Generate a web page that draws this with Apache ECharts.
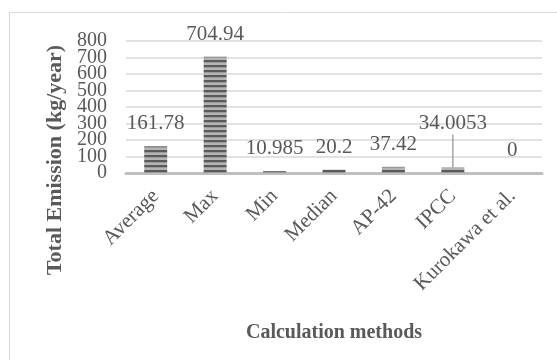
<!DOCTYPE html>
<html><head><meta charset="utf-8">
<script src="https://cdn.jsdelivr.net/npm/echarts@6/dist/echarts.min.js"></script>
<style>html,body{margin:0;padding:0;background:#fff}#c{width:557px;height:360px}</style>
</head><body><div id="c"></div>
<script>
const categories = ['Average', 'Max', 'Min', 'Median', 'AP-42', 'IPCC', 'Kurokawa et al.'];
const values = [161.78, 704.94, 10.985, 20.2, 37.42, 34.0053, 0];
const valueLabels = ['161.78', '704.94', '10.985', '20.2', '37.42', '34.0053', '0'];
const yTicks = [0, 100, 200, 300, 400, 500, 600, 700, 800];

const pc = document.createElement('canvas');
pc.width = 4; pc.height = 5;
const g = pc.getContext('2d');
g.fillStyle = '#b4b4b4'; g.fillRect(0, 0, 4, 5);
g.fillStyle = '#5a5a5a'; g.fillRect(0, 0, 4, 2);
g.fillStyle = '#9a9a9a'; g.fillRect(0, 2, 4, 1);

const font = '"Liberation Serif", "Times New Roman", serif';
const yLabelBase = { margin: 19, fontFamily: font, fontSize: 20, color: '#595959', showMinLabel: true, showMaxLabel: true, hideOverlap: false };
const chart = echarts.init(document.getElementById('c'));
chart.setOption({
  animation: false,
  graphic: [{ type: 'rect', shape: { x: 9.5, y: 12.5, width: 560, height: 360 }, style: { fill: 'none', stroke: '#d9d9d9', lineWidth: 1 }, silent: true }],
  grid: { left: 126, right: 15, top: 41, bottom: 187 },
  xAxis: {
    type: 'category', data: categories,
    axisLine: { lineStyle: { color: '#bfbfbf', width: 3 } },
    axisTick: { show: false },
    axisLabel: { rotate: 45, interval: 0, margin: 20, fontFamily: font, fontSize: 21, color: '#595959' },
    name: 'Calculation methods', nameLocation: 'middle', nameGap: 150,
    nameTextStyle: { fontFamily: font, fontSize: 20, fontWeight: 'bold', color: '#595959' }
  },
  yAxis: [{
    type: 'value', min: yTicks[0], max: yTicks[yTicks.length - 1], interval: 100, position: 'left',
    axisLine: { show: false }, axisTick: { show: false },
    splitLine: { lineStyle: { color: '#d9d9d9', width: 1.5 } },
    axisLabel: Object.assign({}, yLabelBase, { formatter: v => (yTicks.indexOf(v) % 2 === 0 ? String(v) : '') }),
    name: 'Total Emission (kg/year)', nameLocation: 'middle', nameGap: 58,
    nameTextStyle: { fontFamily: font, fontSize: 22, fontWeight: 'bold', color: '#595959', padding: [0, 106, 0, 0] }
  }, {
    type: 'value', min: yTicks[0], max: yTicks[yTicks.length - 1], interval: 100, position: 'left', offset: 0,
    axisLine: { show: false }, axisTick: { show: false }, splitLine: { show: false },
    axisLabel: Object.assign({}, yLabelBase, { formatter: v => (yTicks.indexOf(v) % 2 === 1 ? String(v) : '') })
  }],
  series: [{
    type: 'bar', barWidth: 23, yAxisIndex: 0,
    data: values.map((v, i) => i === 5
      ? { value: v, labelLine: { show: true, lineStyle: { color: '#a6a6a6', width: 1.5 } } }
      : { value: v, labelLine: { show: false } }),
    itemStyle: { color: { image: pc, repeat: 'repeat' } },
    label: {
      show: true, position: 'top', distance: 12,
      fontFamily: font, fontSize: 21, color: '#595959',
      formatter: p => valueLabels[p.dataIndex]
    },
    labelLayout: p => p.dataIndex === 5 ? { dy: -21 } : {}
  }]
});
</script></body></html>
